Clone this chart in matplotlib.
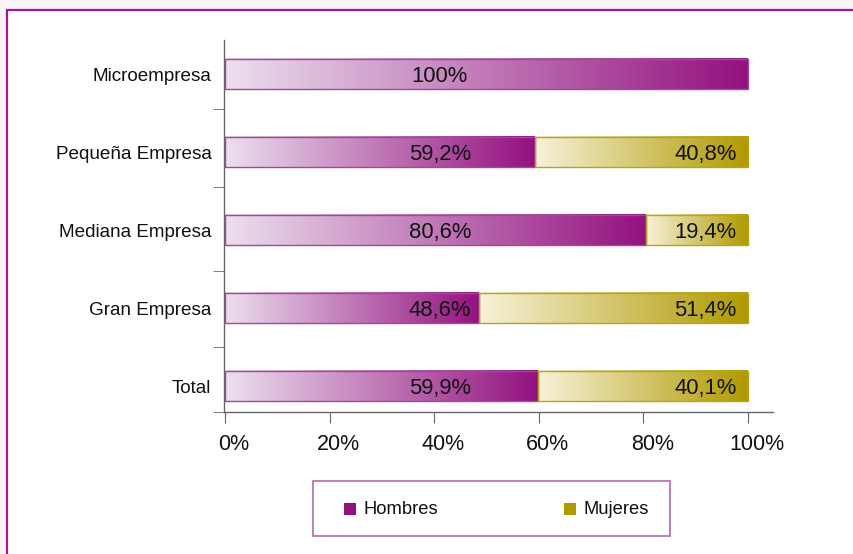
import matplotlib
matplotlib.use("Agg")
import matplotlib.pyplot as plt
import numpy as np
from matplotlib.colors import LinearSegmentedColormap
from matplotlib.patches import Rectangle
import matplotlib.transforms as mtransforms

plt.rcParams['font.family'] = ['Liberation Sans', 'DejaVu Sans']

categories = ["Microempresa", "Pequeña Empresa", "Mediana Empresa", "Gran Empresa", "Total"]
hombres = [100.0, 59.2, 80.6, 48.6, 59.9]
mujeres = [0.0, 40.8, 19.4, 51.4, 40.1]
series_names = ["Hombres", "Mujeres"]
xticks = [0, 20, 40, 60, 80, 100]
xticklabels = ["0%", "20%", "40%", "60%", "80%", "100%"]

H_LIGHT, H_DARK = "#ecdfee", "#93117f"
M_LIGHT, M_DARK = "#f7f2da", "#b09a00"
H_EDGE, M_EDGE = "#a2479a", "#b8a31a"

W, Hpx = 854, 554
fig = plt.figure(figsize=(W / 100, Hpx / 100), dpi=100)
fig.patch.set_facecolor("#f9f4f8")

# outer frame
frame = Rectangle((7 / W, -0.1), 1.2, (1 - 10 / Hpx) + 0.1, transform=fig.transFigure,
                  facecolor="white", edgecolor="#a0189a", linewidth=1.6, zorder=0)
fig.add_artist(frame)

ax = fig.add_axes([224 / W, 1 - 412 / Hpx, (773 - 224) / W, (412 - 40) / Hpx])
ax.set_facecolor("none")

cmap_h = LinearSegmentedColormap.from_list("h", [H_LIGHT, H_DARK])
cmap_m = LinearSegmentedColormap.from_list("m", [M_LIGHT, M_DARK])
grad = np.linspace(0, 1, 256).reshape(1, -1)
bh = 0.385

for i, (h, m) in enumerate(zip(hombres, mujeres)):
    y0, y1 = i - bh / 2, i + bh / 2
    if h > 0:
        ax.imshow(grad, cmap=cmap_h, extent=(0, h, y1, y0), aspect="auto", zorder=2,
                  interpolation="bilinear")
        ax.add_patch(Rectangle((0, y0), h, bh, fill=False, edgecolor=H_EDGE, lw=1.0, zorder=3))
        ax.text(41.1, i + 0.03, f"{h:.1f}".replace(".", ",").replace(",0", "") + "%",
                ha="center", va="center", fontsize=15.8, color="#111111", zorder=4)
    if m > 0:
        ax.imshow(grad, cmap=cmap_m, extent=(h, h + m, y1, y0), aspect="auto", zorder=2,
                  interpolation="bilinear")
        ax.add_patch(Rectangle((h, y0), m, bh, fill=False, edgecolor=M_EDGE, lw=1.0, zorder=3))
        ax.text(97.8, i + 0.03, f"{m:.1f}".replace(".", ",") + "%",
                ha="right", va="center", fontsize=15.8, color="#111111", zorder=4)

ax.set_xlim(-0.2, 104.8)
ax.set_ylim(4.333, -0.436)

for s in ["top", "right"]:
    ax.spines[s].set_visible(False)
for s in ["left", "bottom"]:
    ax.spines[s].set_color("#666666")
    ax.spines[s].set_linewidth(1.0)

ax.set_xticks(xticks)
ax.set_xticklabels(xticklabels, fontsize=15.5, color="#111111")
ax.tick_params(axis="x", direction="out", length=8, color="#666666", pad=8)
offset = mtransforms.ScaledTranslation(9 / 100, 0, fig.dpi_scale_trans)
for lbl in ax.get_xticklabels():
    lbl.set_transform(lbl.get_transform() + offset)

ax.set_yticks(range(len(categories)))
ax.set_yticklabels(categories, fontsize=13.6, color="#111111")
ax.tick_params(axis="y", which="major", length=0, pad=9)
ax.set_yticks([0.45, 1.45, 2.53, 3.5, 4.333], minor=True)
ax.tick_params(axis="y", which="minor", direction="out", length=8, color="#666666")

# legend box
lx0, ly0, lx1, ly1 = 313, 481, 670, 536
fig.add_artist(Rectangle((lx0 / W, 1 - ly1 / Hpx), (lx1 - lx0) / W, (ly1 - ly0) / Hpx,
                         transform=fig.transFigure, facecolor="white", edgecolor="#b46aae", lw=1.2))
for (mx, tx), name, col in zip([(344, 364), (564, 584)], series_names, [H_DARK, M_DARK]):
    fig.add_artist(Rectangle((mx / W, 1 - 515 / Hpx), 12 / W, 12 / Hpx,
                             transform=fig.transFigure, facecolor=col, edgecolor="none"))
    fig.text(tx / W, 1 - 510 / Hpx, name, fontsize=13.2, va="center", ha="left", color="#111111")

fig.savefig("out.png", dpi=100)
